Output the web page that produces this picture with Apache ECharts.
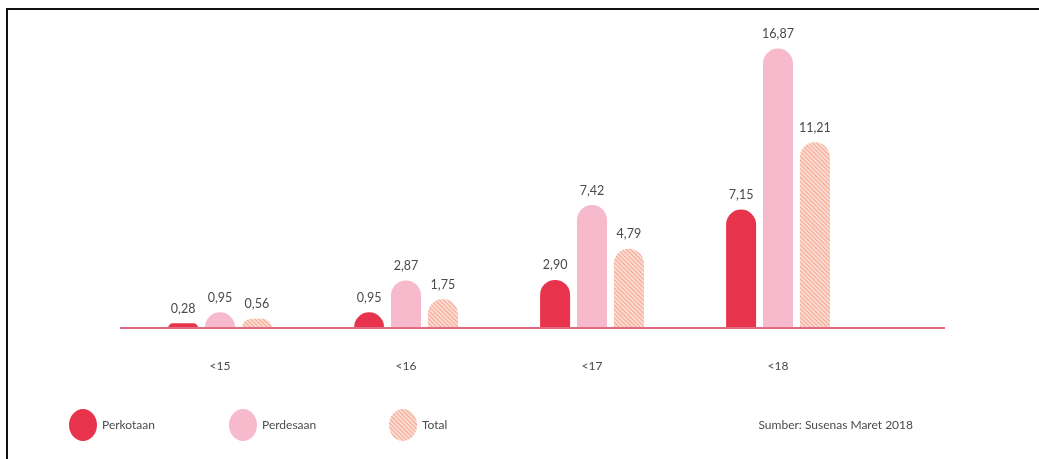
<!DOCTYPE html>
<html>
<head>
<meta charset="utf-8">
<script src="https://cdn.jsdelivr.net/npm/echarts@6/dist/echarts.min.js"></script>
<style>
  html, body { margin: 0; padding: 0; background: #fff; }
  #wrap { position: relative; width: 1039px; height: 459px; overflow: hidden; }
  #chart { width: 1039px; height: 459px; }
  #frame {
    position: absolute; left: 6px; top: 8px; right: -10px; bottom: -10px;
    border-top: 2px solid #111; border-left: 2px solid #111;
    pointer-events: none;
  }
</style>
</head>
<body>
<div id="wrap">
  <div id="chart"></div>
  <div id="frame"></div>
</div>
<script>
var categories = ['<15', '<16', '<17', '<18'];
var seriesNames = ['Perkotaan', 'Perdesaan', 'Total'];
var perkotaan = [0.28, 0.95, 2.90, 7.15];
var perdesaan = [0.95, 2.87, 7.42, 16.87];
var total = [0.56, 1.75, 4.79, 11.21];
var sourceText = 'Sumber: Susenas Maret 2018';

var labelColor = '#4a4a4a';
var fontName = 'Lato, "Open Sans", sans-serif';

function fmt(v) {
    return v.toFixed(2).replace('.', ',');   // koma desimal
}

function barSeries(name, data, style) {
    return {
        type: 'bar',
        name: name,
        data: data,
        barWidth: 30,
        barGap: '23%',
        itemStyle: style,
        label: {
            show: true,
            position: 'top',
            distance: 8,
            color: labelColor,
            fontSize: 12.5,
            fontFamily: fontName,
            formatter: function (p) { return fmt(p.value); }
        }
    };
}

var dom = document.getElementById('chart');
var myChart = echarts.init(dom, null, {renderer: 'canvas'});

var legendBase = {
    orient: 'horizontal',
    top: 404,
    itemWidth: 28,
    itemHeight: 32,
    itemGap: 10,
    // elips tegak
    icon: 'path://M14,0 A14,16 0 1,1 14,32 A14,16 0 1,1 14,0 Z',
    textStyle: {color: labelColor, fontSize: 12, fontFamily: fontName}
};

var option = {
    animation: false,
    backgroundColor: '#fff',
    grid: {
        left: 127,
        right: 168,
        top: 5,
        bottom: 131
    },
    legend: [
        Object.assign({}, legendBase, {left: 64, data: [seriesNames[0]]}),
        Object.assign({}, legendBase, {left: 224, data: [seriesNames[1]]}),
        Object.assign({}, legendBase, {left: 384, data: [seriesNames[2]]})
    ],
    title: {
        text: sourceText,
        right: 121,
        top: 414,
        textStyle: {color: labelColor, fontSize: 12, fontWeight: 'normal', fontFamily: fontName}
    },
    xAxis: {
        type: 'category',
        data: categories,
        axisLine: {show: false},
        axisTick: {show: false},
        axisLabel: {color: labelColor, fontSize: 12, fontFamily: fontName, margin: 32}
    },
    yAxis: {
        type: 'value',
        min: 0,
        max: 19.5,
        show: false,
        splitLine: {show: false}
    },
    graphic: [{
        type: 'line',
        z: 100,
        shape: {x1: 120, y1: 328, x2: 945, y2: 328},
        style: {stroke: '#e06b82', lineWidth: 2}
    }],
    series: [
        barSeries(seriesNames[0], perkotaan, {color: '#e8334d', borderRadius: [15, 15, 0, 0]}),
        barSeries(seriesNames[1], perdesaan, {color: '#f7b9cc', borderRadius: [15, 15, 0, 0]}),
        barSeries(seriesNames[2], total, {
            color: '#fcdcd0',
            borderRadius: [15, 15, 0, 0],
            decal: {
                symbol: 'rect',
                color: 'rgba(236,128,108,0.6)',
                dashArrayX: [1, 0],
                dashArrayY: [1, 1.6],
                rotation: Math.PI / 4
            }
        })
    ]
};

myChart.setOption(option);
</script>
</body>
</html>
